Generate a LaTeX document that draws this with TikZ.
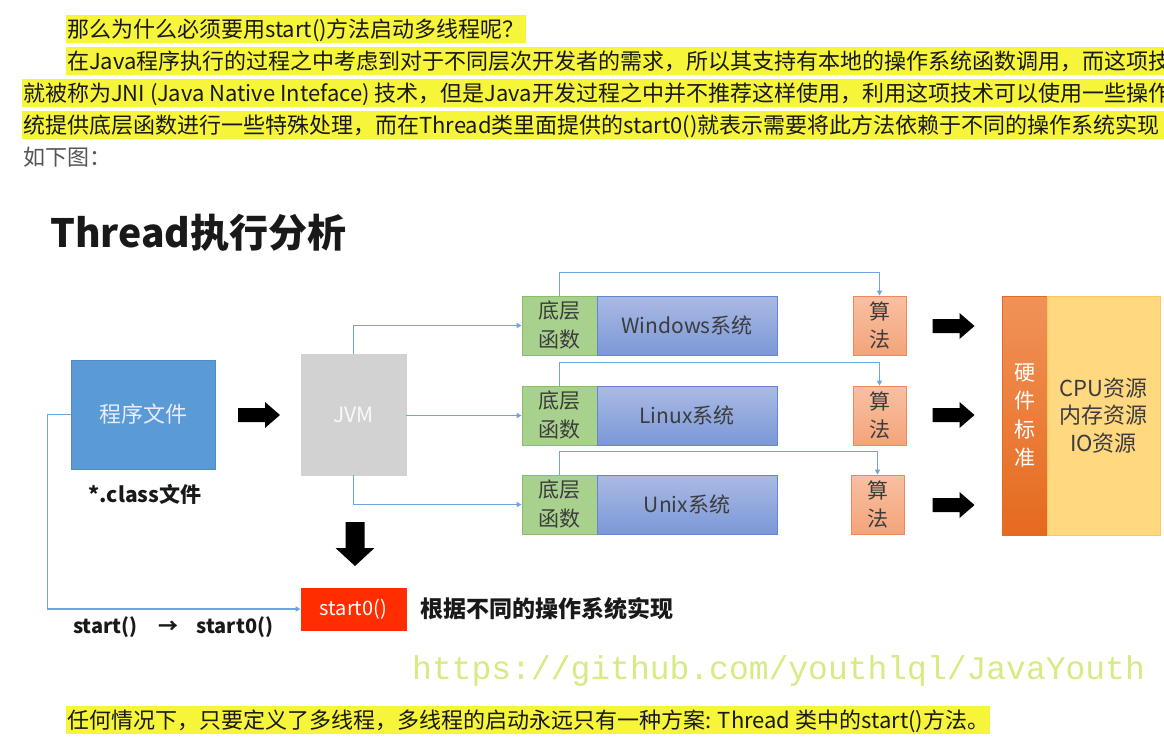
\documentclass[tikz,border=0pt]{standalone}
\usepackage{fontspec}
\setmainfont{Noto Sans CJK SC}
\newfontfamily\wmfont{Liberation Mono}
\usetikzlibrary{arrows.meta}
\definecolor{hl}{RGB}{247,245,58}
\definecolor{txt}{RGB}{25,25,25}
\definecolor{greytxt}{RGB}{85,85,85}
\definecolor{progblue}{RGB}{91,155,213}
\definecolor{jvmgray}{RGB}{210,210,210}
\definecolor{gfill}{RGB}{169,209,142}
\definecolor{gborder}{RGB}{135,190,105}
\definecolor{systop}{RGB}{170,186,228}
\definecolor{sysbot}{RGB}{124,152,215}
\definecolor{sysborder}{RGB}{100,132,212}
\definecolor{algtop}{RGB}{248,192,162}
\definecolor{algbot}{RGB}{244,164,122}
\definecolor{algborder}{RGB}{242,135,92}
\definecolor{hwtop}{RGB}{241,146,88}
\definecolor{hwbot}{RGB}{229,106,30}
\definecolor{resfill}{RGB}{255,216,128}
\definecolor{resborder}{RGB}{255,200,95}
\definecolor{redbox}{RGB}{255,45,0}
\definecolor{linkc}{RGB}{110,165,220}
\definecolor{wm}{RGB}{212,236,130}
\definecolor{dark}{RGB}{60,60,60}
\newcommand\rblock[1]{\fill[black] (#1) ++(-21,-7) -- ++(27,0) -- ++(0,-6) -- ++(15,13) -- ++(-15,13) -- ++(0,-6) -- ++(-27,0) -- cycle;}
\tikzset{
  para/.style={anchor=base west, inner xsep=1pt, inner ysep=0pt, text height=22pt, text depth=6pt, font=\fontsize{22}{26}\selectfont, text=txt},
  box/.style={rectangle, inner sep=0pt, line width=0.8pt},
  link/.style={draw=linkc, line width=1.2pt, -{Triangle[width=5pt,length=5pt]}},
  green/.style={box, fill=gfill, draw=gborder, minimum width=75, minimum height=59, align=center, text=dark, font=\fontsize{21}{29}\selectfont},
  sys/.style={box, top color=systop, bottom color=sysbot, draw=sysborder, minimum width=180, minimum height=59, text=dark, font=\fontsize{21}{24}\selectfont},
  alg/.style={box, top color=algtop, bottom color=algbot, draw=algborder, minimum width=53, minimum height=59, align=center, text=dark, font=\fontsize{21}{28}\selectfont}
}
\begin{document}
\begin{tikzpicture}[x=1pt,y=-1pt]
\useasboundingbox (0,0) rectangle (1164,748);
\fill[white] (0,0) rectangle (1164,748);
\clip (0,0) rectangle (1164,748);
% paragraph
\node[para, fill=hl] (p1) at (66,37) {那么为什么必须要用start()方法启动多线程呢？};
\fill[hl] (66,47) rectangle (1164,75);
\node[para] (p2) at (66,69) {在Java程序执行的过程之中考虑到对于不同层次开发者的需求，所以其支持有本地的操作系统函数调用，而这项技};
\fill[hl] (22,79) rectangle (1164,107);
\node[para] (p3) at (22,101) {就被称为JNI (Java Native Inteface) 技术，但是Java开发过程之中并不推荐这样使用，利用这项技术可以使用一些操作};
\fill[hl] (22,111) rectangle (1164,139);
\node[para] (p4) at (22,133) {统提供底层函数进行一些特殊处理，而在Thread类里面提供的start0()就表示需要将此方法依赖于不同的操作系统实现};
\node[para, text=greytxt] (p5) at (22,165) {如下图：};
% title
\node[anchor=base west, inner sep=0pt, font=\fontsize{39}{44}\selectfont\bfseries, text=txt] (title) at (50,247) {Thread执行分析};
% boxes
\node[box, fill=progblue, draw=progblue!90!black, minimum width=144, minimum height=109, text=white!92!blue, font=\fontsize{22}{24}\selectfont] (prog) at (143,414.5) {程序文件};
\node[font=\fontsize{21}{24}\selectfont\bfseries, text=txt] (cls) at (145,494) {*.class文件};
\node[box, fill=jvmgray, draw=jvmgray, minimum width=105, minimum height=121, text=white!95!gray, font=\fontsize{21}{24}\selectfont] (jvm) at (353.5,414.5) {JVM};
\coordinate (a1) at (259,415);
\rblock{a1}
\node[green] (g1) at (559.5,325.5) {底层\\函数};
\node[green] (g2) at (559.5,415.5) {底层\\函数};
\node[green] (g3) at (559.5,504.5) {底层\\函数};
\node[sys] (b1) at (687,325.5) {Windows系统};
\node[sys] (b2) at (687,415.5) {Linux系统};
\node[sys] (b3) at (687,504.5) {Unix系统};
\node[alg] (s1) at (879.5,325.5) {算\\法};
\node[alg] (s2) at (879.5,415.5) {算\\法};
\node[alg] (s3) at (877.5,504.5) {算\\法};
\coordinate (r1) at (953.5,326);
\coordinate (r2) at (953.5,415);
\coordinate (r3) at (953.5,505);
\rblock{r1}
\rblock{r2}
\rblock{r3}
\node[box, top color=hwtop, bottom color=hwbot, draw=hwbot, minimum width=45, minimum height=239, align=center, text=white, font=\fontsize{21}{28.5}\selectfont] (hw) at (1024.5,415.5) {硬\\件\\标\\准};
\node[box, fill=resfill, draw=resborder, minimum width=113, minimum height=239, align=center, text=dark, font=\fontsize{22}{27.5}\selectfont] (res) at (1103.5,415.5) {CPU资源\\内存资源\\IO资源};
\coordinate (down) at (355,544);
\fill[black] (down) ++(-9.5,-22) -- ++(19,0) -- ++(0,26) -- ++(10,0) -- ++(-19.5,18) -- ++(-19.5,-18) -- ++(10,0) -- cycle;
\node[box, fill=redbox, draw=redbox, minimum width=105, minimum height=42, text=white, font=\fontsize{20}{24}\selectfont] (red) at (353.5,609) {start0()};
\node[anchor=west, inner sep=0pt, font=\fontsize{23}{26}\selectfont\bfseries, text=txt] (impl) at (420,609) {根据不同的操作系统实现};
\node[anchor=base west, inner sep=0pt, font=\fontsize{20}{24}\selectfont\bfseries, text=txt] (st) at (73,633) {start()\hspace{21pt}→\hspace{18pt}start0()};
% connectors
\draw[link] (jvm.north) |- (g1.west);
\draw[link] (jvm.east |- g2.west) -- (g2.west);
\draw[link] (jvm.south) |- (g3.west);
\draw[link] (g1.north) -- ++(0,-23) -| (s1.north);
\draw[link] (g2.north) -- ++(0,-23) -| (s2.north);
\draw[link] (g3.north) -- ++(0,-23) -| (s3.north);
\draw[link] (prog.west) -- ++(-23,0) |- (red.west);
% watermark
\node[anchor=base west, inner sep=0pt, font=\wmfont\fontsize{33}{36}\selectfont, text=wm] (wmk) at (412,679) {https://github.com/youthlql/JavaYouth};
% bottom line
\node[para, fill=hl] (p6) at (66,728) {任何情况下，只要定义了多线程，多线程的启动永远只有一种方案: Thread 类中的start()方法。};
\end{tikzpicture}
\end{document}
